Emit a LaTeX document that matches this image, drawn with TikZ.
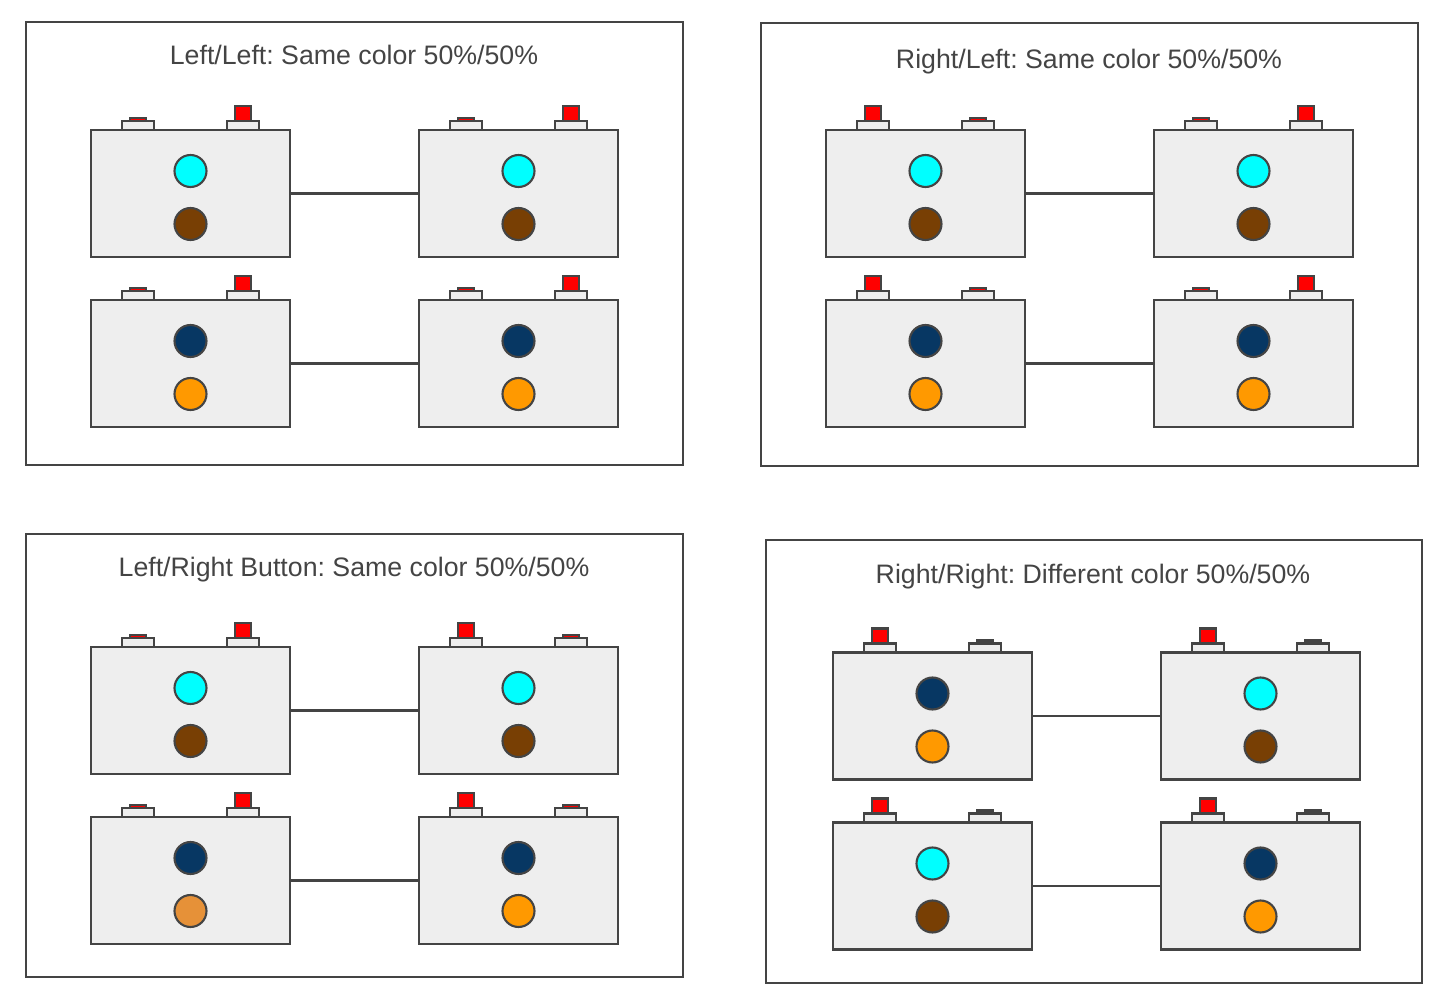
\documentclass[tikz,border=0pt]{standalone}
\usepackage{fontspec}
\setmainfont{Liberation Sans}
\usepackage{tikz}
\usetikzlibrary{calc}
\usepackage{xcolor}
\definecolor{linegray}{HTML}{444444}
\definecolor{textgray}{HTML}{444444}
\definecolor{boxfill}{HTML}{EEEEEE}
\definecolor{lampcyan}{HTML}{00FFFF}
\definecolor{lampbrown}{HTML}{783F04}
\definecolor{lampnavy}{HTML}{073763}
\definecolor{lamporange}{HTML}{FF9900}
\definecolor{lampamber}{HTML}{E69138}
\definecolor{capred}{HTML}{FF0000}
\frenchspacing

\tikzset{
  frame/.style={draw=linegray,line width=0.6pt},
  title/.style={text=textgray,font=\fontsize{7.6}{9}\selectfont,inner sep=0pt},
  battbox/.style={draw=linegray,fill=boxfill,line width=0.6pt,inner sep=0pt,outer sep=0pt,
    minimum width=19.9mm,minimum height=12.7mm},
  btnbase/.style={draw=linegray,fill=boxfill,line width=0.6pt,inner sep=0pt,outer sep=0pt,
    minimum width=3.2mm,minimum height=0.9mm,anchor=south},
  captall/.style={draw=linegray,fill=capred,line width=0.6pt,inner sep=0pt,outer sep=0pt,
    minimum width=1.6mm,minimum height=1.5mm,anchor=south},
  capthin/.style={draw=linegray,fill=capred,line width=0.6pt,inner sep=0pt,outer sep=0pt,
    minimum width=1.6mm,minimum height=0.3mm,anchor=south},
  lamp/.style={circle,draw=linegray,line width=0.6pt,inner sep=0pt,minimum size=3.2mm},
  wire/.style={draw=linegray,line width=0.6pt}
}

% #1 name, #2 centre, #3/#4 left/right cap, #5/#6 upper/lower lamp
\newcommand{\battery}[6]{%
  \node[battbox] (#1) at (#2) {};
  \node[btnbase] (#1-lb) at ($(#1.north)+(-52.5,0)$) {};
  \node[btnbase] (#1-rb) at ($(#1.north)+(52.5,0)$) {};
  \node[#3] (#1-lc) at (#1-lb.north) {};
  \node[#4] (#1-rc) at (#1-rb.north) {};
  \node[lamp,fill=#5] (#1-up) at ($(#1.north)+(0,41)$) {};
  \node[lamp,fill=#6] (#1-dn) at ($(#1.north)+(0,94)$) {};
}

\begin{document}
\begin{tikzpicture}[x=0.1mm,y=-0.1mm]
  \useasboundingbox (0,0) rectangle (1456,1001);

  % Left/Left
  \draw[frame] (26,22) rectangle (683,465);
  \node[title] (t1) at (354,55) {Left/Left: Same color 50\%/50\%};
  \battery{a1}{190.5,193.5}{capthin}{captall}{lampcyan}{lampbrown}
  \battery{b1}{518.5,193.5}{capthin}{captall}{lampcyan}{lampbrown}
  \battery{c1}{190.5,363.5}{capthin}{captall}{lampnavy}{lamporange}
  \battery{d1}{518.5,363.5}{capthin}{captall}{lampnavy}{lamporange}
  \draw[wire] (a1.east) -- (b1.west);
  \draw[wire] (c1.east) -- (d1.west);

  % Right/Left
  \draw[frame] (761,23) rectangle (1418,466);
  \node[title] (t2) at (1089,62) {Right/Left: Same color 50\%/50\%};
  \battery{a2}{925.5,193.5}{captall}{capthin}{lampcyan}{lampbrown}
  \battery{b2}{1253.5,193.5}{capthin}{captall}{lampcyan}{lampbrown}
  \battery{c2}{925.5,363.5}{captall}{capthin}{lampnavy}{lamporange}
  \battery{d2}{1253.5,363.5}{capthin}{captall}{lampnavy}{lamporange}
  \draw[wire] (a2.east) -- (b2.west);
  \draw[wire] (c2.east) -- (d2.west);

  % Left/Right Button
  \draw[frame] (26,534) rectangle (683,977);
  \node[title] (t3) at (354,570) {Left/Right Button: Same color 50\%/50\%};
  \battery{a3}{190.5,710.5}{capthin}{captall}{lampcyan}{lampbrown}
  \battery{b3}{518.5,710.5}{captall}{capthin}{lampcyan}{lampbrown}
  \battery{c3}{190.5,880.5}{capthin}{captall}{lampnavy}{lampamber}
  \battery{d3}{518.5,880.5}{captall}{capthin}{lampnavy}{lamporange}
  \draw[wire] (a3.east) -- (b3.west);
  \draw[wire] (c3.east) -- (d3.west);

  % Right/Right
  \draw[frame] (766,540) rectangle (1422,983);
  \node[title] (t4) at (1093,577) {Right/Right: Different color 50\%/50\%};
  \battery{a4}{932.5,716}{captall}{capthin}{lampnavy}{lamporange}
  \battery{b4}{1260.5,716}{captall}{capthin}{lampcyan}{lampbrown}
  \battery{c4}{932.5,886}{captall}{capthin}{lampcyan}{lampbrown}
  \battery{d4}{1260.5,886}{captall}{capthin}{lampnavy}{lamporange}
  \draw[wire] (a4.east) -- (b4.west);
  \draw[wire] (c4.east) -- (d4.west);
\end{tikzpicture}
\end{document}
